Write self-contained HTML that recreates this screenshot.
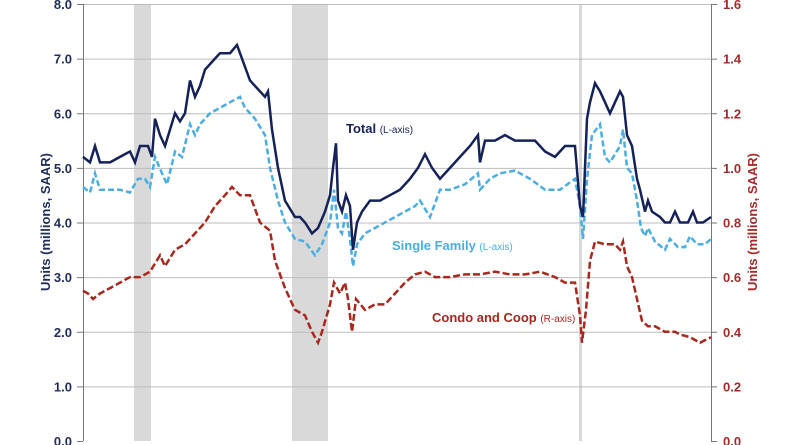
<!DOCTYPE html>
<html><head><meta charset="utf-8"><style>
body{margin:0;background:#fff;}
svg{display:block;font-family:"Liberation Sans",Arial,sans-serif;font-weight:bold;}
</style></head><body>
<svg id="s" width="800" height="445" viewBox="0 0 800 445" xmlns="http://www.w3.org/2000/svg">
<rect x="134" y="4" width="17" height="437" fill="#d9d9d9"/>
<rect x="292" y="4" width="36" height="437" fill="#d9d9d9"/>
<rect x="579" y="4" width="3" height="437" fill="#d9d9d9"/>
<g id="grid" stroke="#bdbdbd" stroke-width="1"></g>
<line x1="83.5" y1="4" x2="83.5" y2="441" stroke="#777" stroke-width="1"/>
<line x1="711.5" y1="4" x2="711.5" y2="441" stroke="#777" stroke-width="1"/>
<g id="lbl" font-size="13"></g>
<text transform="translate(50,222) rotate(-90)" text-anchor="middle" font-size="13" fill="#1f2d5a">Units (millions, SAAR)</text>
<text transform="translate(757,222) rotate(-90)" text-anchor="middle" font-size="13" fill="#a52a2a">Units (millions, SAAR)</text>
<polyline id="cd" fill="none" stroke="#a8281e" stroke-width="2.5" stroke-dasharray="7,3"/>
<polyline id="sf" fill="none" stroke="#4aaee3" stroke-width="2.5" stroke-dasharray="6,3"/>
<polyline id="tt" fill="none" stroke="#15225a" stroke-width="2.5"/>
<text x="346" y="133" font-size="13" fill="#15225a">Total <tspan font-size="10" font-weight="normal">(L-axis)</tspan></text>
<text x="392" y="250" font-size="13" fill="#4aaee3">Single Family <tspan font-size="10" font-weight="normal">(L-axis)</tspan></text>
<text x="432" y="322" font-size="13" fill="#a8281e">Condo and Coop <tspan font-size="10" font-weight="normal">(R-axis)</tspan></text>
</svg>
<script>
var Y=function(v){return 441-v*54.625;};
var g=document.getElementById('grid'),l=document.getElementById('lbl'),ns='http://www.w3.org/2000/svg';
for(var i=0;i<=8;i++){var y=Y(i);
 if(i>0){var ln=document.createElementNS(ns,'line');ln.setAttribute('x1',83);ln.setAttribute('x2',711);ln.setAttribute('y1',y+0.5);ln.setAttribute('y2',y+0.5);g.appendChild(ln);}
 var t=document.createElementNS(ns,'text');t.setAttribute('x',72);t.setAttribute('y',y+5);t.setAttribute('text-anchor','end');t.setAttribute('fill','#1f2d5a');t.textContent=i.toFixed(1);l.appendChild(t);
 var r=document.createElementNS(ns,'text');r.setAttribute('x',723);r.setAttribute('y',y+5);r.setAttribute('fill','#a52a2a');r.textContent=(i*0.2).toFixed(1);l.appendChild(r);
 [[77,83],[711,717]].forEach(function(p){var k=document.createElementNS(ns,'line');k.setAttribute('x1',p[0]);k.setAttribute('x2',p[1]);k.setAttribute('y1',y+0.5);k.setAttribute('y2',y+0.5);k.setAttribute('stroke','#777');g.appendChild(k);});
}
function P(id,a){var s=[];for(var i=0;i<a.length;i+=2)s.push(a[i]+','+Y(a[i+1]).toFixed(1));document.getElementById(id).setAttribute('points',s.join(' '));}
P('tt',[83,5.2,90,5.1,95,5.4,100,5.1,110,5.1,120,5.2,130,5.3,135,5.1,140,5.4,148,5.4,152,5.2,155,5.9,160,5.6,165,5.4,170,5.7,175,6.0,180,5.85,185,6.0,190,6.6,195,6.3,200,6.5,205,6.8,210,6.9,215,7.0,220,7.1,225,7.1,230,7.1,237,7.25,240,7.1,250,6.6,260,6.4,265,6.3,268,6.4,272,5.7,278,5.0,285,4.4,295,4.1,300,4.1,305,4.0,312,3.8,318,3.9,325,4.2,330,4.5,333,5.0,336,5.45,338,4.4,342,4.2,346,4.5,350,4.3,353,3.5,357,4.0,362,4.2,370,4.4,380,4.4,390,4.5,400,4.6,410,4.8,418,5.0,425,5.25,432,5.0,440,4.8,450,5.0,460,5.2,470,5.4,478,5.6,480,5.1,485,5.5,495,5.5,505,5.6,515,5.5,525,5.5,535,5.5,545,5.3,555,5.2,565,5.4,575,5.4,580,4.3,583,4.1,587,5.9,590,6.2,595,6.55,600,6.4,605,6.2,610,6.0,615,6.2,620,6.4,623,6.3,627,5.6,632,5.4,637,4.8,640,4.6,645,4.2,648,4.4,652,4.2,660,4.1,665,4.0,670,4.0,675,4.2,680,4.0,688,4.0,693,4.2,697,4.0,703,4.0,711,4.1]);
P('sf',[83,4.65,90,4.55,95,4.9,100,4.6,110,4.6,120,4.6,130,4.55,138,4.8,145,4.8,150,4.65,155,5.2,162,4.9,167,4.7,175,5.3,182,5.2,190,5.8,195,5.6,200,5.8,210,6.0,220,6.1,230,6.2,240,6.3,245,6.1,255,5.9,265,5.6,270,5.0,278,4.4,285,4.0,295,3.7,305,3.65,315,3.4,322,3.6,330,4.0,334,4.6,338,3.9,342,3.8,346,4.2,350,3.7,353,3.2,357,3.6,365,3.8,375,3.9,385,4.0,395,4.1,405,4.2,415,4.3,420,4.4,430,4.1,440,4.6,450,4.6,465,4.7,478,4.9,480,4.6,490,4.8,500,4.9,515,4.95,530,4.8,545,4.6,560,4.6,575,4.8,580,4.3,583,3.7,587,4.8,592,5.6,600,5.8,605,5.2,610,5.1,620,5.4,623,5.7,627,5.0,632,4.9,637,4.4,641,3.9,645,3.75,648,3.9,655,3.65,665,3.5,670,3.7,678,3.55,685,3.55,690,3.75,697,3.6,705,3.6,711,3.7]);
P('cd',[83,2.75,88,2.7,93,2.6,100,2.7,110,2.8,120,2.9,130,3.0,140,3.0,150,3.1,160,3.4,165,3.2,175,3.5,185,3.6,195,3.8,205,4.0,215,4.3,225,4.5,232,4.65,240,4.5,250,4.5,260,4.0,270,3.85,275,3.3,285,2.8,295,2.4,305,2.3,312,2.0,318,1.8,322,2.0,330,2.5,334,2.9,340,2.7,345,2.9,348,2.6,352,2.0,356,2.6,365,2.4,375,2.5,385,2.5,395,2.7,405,2.9,415,3.05,425,3.1,435,3.0,450,3.0,465,3.05,480,3.05,495,3.1,510,3.05,525,3.05,540,3.1,555,3.0,565,2.9,575,2.9,580,2.3,582,1.8,586,2.4,590,3.3,595,3.65,605,3.6,615,3.6,620,3.5,623,3.65,627,3.2,632,3.0,637,2.6,642,2.2,648,2.1,655,2.1,665,2.0,675,2.0,680,1.95,690,1.9,700,1.8,711,1.9]);
</script>
</body></html>
